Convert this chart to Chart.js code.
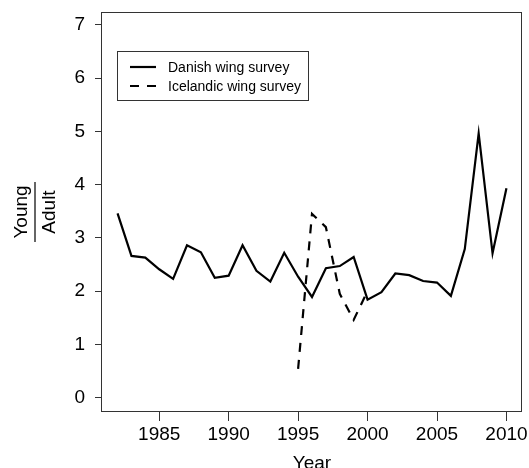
<!DOCTYPE html>
<html>
<head>
<meta charset="utf-8">
<script src="https://cdn.jsdelivr.net/npm/chart.js@4.4.1/dist/chart.umd.min.js"></script>
<style>
  html, body { margin: 0; padding: 0; background: #fff; }
</style>
</head>
<body>
<canvas id="ratioChart" width="529" height="468"></canvas>
<script>
// data
const years = [1982, 1983, 1984, 1985, 1986, 1987, 1988, 1989, 1990, 1991,
  1992, 1993, 1994, 1995, 1996, 1997, 1998, 1999, 2000, 2001,
  2002, 2003, 2004, 2005, 2006, 2007, 2008, 2009, 2010];
const danish = [3.46, 2.66, 2.63, 2.41, 2.23, 2.86, 2.73, 2.25, 2.29, 2.86,
  2.38, 2.18, 2.72, 2.27, 1.89, 2.43, 2.47, 2.64, 1.84, 1.98,
  2.33, 2.30, 2.19, 2.16, 1.91, 2.79, 4.96, 2.71, 3.93];
const icelandYears = [1995, 1996, 1997, 1998, 1999, 2000];
const icelandic = [0.54, 3.45, 3.20, 1.95, 1.46, 2.00];
const xTicks = [1985, 1990, 1995, 2000, 2005, 2010];
const yTicks = [0, 1, 2, 3, 4, 5, 6, 7];
const seriesNames = ['Danish wing survey', 'Icelandic wing survey'];
const yTitleTop = 'Young';
const yTitleBottom = 'Adult';

const FONT = '"Liberation Sans", Arial, sans-serif';
const INK = '#333';

// box, fraction y title and legend (R-style)
const decorations = {
  id: 'decorations',
  afterDraw(chart) {
    const ctx = chart.ctx;
    const a = chart.chartArea;
    ctx.save();

    // plot frame
    ctx.strokeStyle = INK;
    ctx.lineWidth = 1;
    ctx.strokeRect(a.left - 0.5, a.top + 0.5, a.right - a.left, a.bottom - a.top - 1);

    // y title as a fraction
    const cy = (a.top + a.bottom) / 2;
    ctx.translate(0, cy);
    ctx.rotate(-Math.PI / 2);
    ctx.fillStyle = '#000';
    ctx.font = '19px ' + FONT;
    ctx.textAlign = 'center';
    ctx.textBaseline = 'alphabetic';
    ctx.fillText(yTitleTop, 0, 27);
    ctx.fillText(yTitleBottom, 0, 55);
    ctx.beginPath();
    ctx.moveTo(-30, 35);
    ctx.lineTo(30, 35);
    ctx.lineWidth = 1.5;
    ctx.strokeStyle = INK;
    ctx.stroke();
    ctx.restore();

    // legend
    ctx.save();
    ctx.strokeStyle = INK;
    ctx.lineWidth = 1;
    ctx.strokeRect(117.5, 51.5, 191, 49);
    const rows = [67, 86];
    chart.data.datasets.forEach((ds, i) => {
      ctx.beginPath();
      ctx.strokeStyle = ds.borderColor;
      ctx.lineWidth = ds.borderWidth;
      ctx.setLineDash(ds.borderDash || []);
      ctx.moveTo(130, rows[i]);
      ctx.lineTo(156, rows[i]);
      ctx.stroke();
      ctx.setLineDash([]);
      ctx.fillStyle = '#000';
      ctx.font = '14px ' + FONT;
      ctx.textAlign = 'left';
      ctx.textBaseline = 'middle';
      ctx.fillText(ds.label, 168, rows[i] + 1);
    });
    ctx.restore();
  }
};

const canvas = document.getElementById('ratioChart');
new Chart(canvas.getContext('2d'), {
  type: 'line',
  data: {
    datasets: [{
      label: seriesNames[0],
      data: years.map((y, i) => ({ x: y, y: danish[i] })),
      borderColor: '#000',
      borderWidth: 2.2,
      pointRadius: 0,
      tension: 0,
      fill: false
    }, {
      label: seriesNames[1],
      data: icelandYears.map((y, i) => ({ x: y, y: icelandic[i] })),
      borderColor: '#000',
      borderWidth: 2.2,
      borderDash: [9, 8],
      pointRadius: 0,
      tension: 0,
      fill: false
    }]
  },
  options: {
    responsive: false,
    animation: false,
    devicePixelRatio: 1,
    layout: { padding: { left: 0, right: 7, top: 12, bottom: 0 }, autoPadding: false },
    plugins: { legend: { display: false }, tooltip: { enabled: false } },
    scales: {
      x: {
        type: 'linear',
        min: 1980.88,
        max: 2011.12,
        afterFit: (s) => { s.height = 56; s.paddingLeft = 0; s.paddingRight = 0; },
        afterBuildTicks: (s) => { s.ticks = xTicks.map(v => ({ value: v })); },
        border: { display: false },
        grid: { drawOnChartArea: false, drawTicks: true, tickLength: 9, color: INK },
        ticks: {
          color: '#000',
          padding: 2,
          maxRotation: 0,
          font: { family: FONT, size: 19 },
          callback: (v) => String(v)
        },
        title: {
          display: true,
          text: 'Year',
          color: '#000',
          font: { family: FONT, size: 19 },
          padding: { top: 0, bottom: -7 }
        }
      },
      y: {
        min: -0.27,
        max: 7.24,
        afterFit: (s) => { s.width = 102; s.paddingTop = 0; s.paddingBottom = 0; },
        afterBuildTicks: (s) => { s.ticks = yTicks.map(v => ({ value: v })); },
        border: { display: false },
        grid: { drawOnChartArea: false, drawTicks: true, tickLength: 7, color: INK },
        ticks: {
          color: '#000',
          padding: 10,
          font: { family: FONT, size: 19 },
          callback: (v) => String(v)
        }
      }
    }
  },
  plugins: [decorations]
});
</script>
</body>
</html>
